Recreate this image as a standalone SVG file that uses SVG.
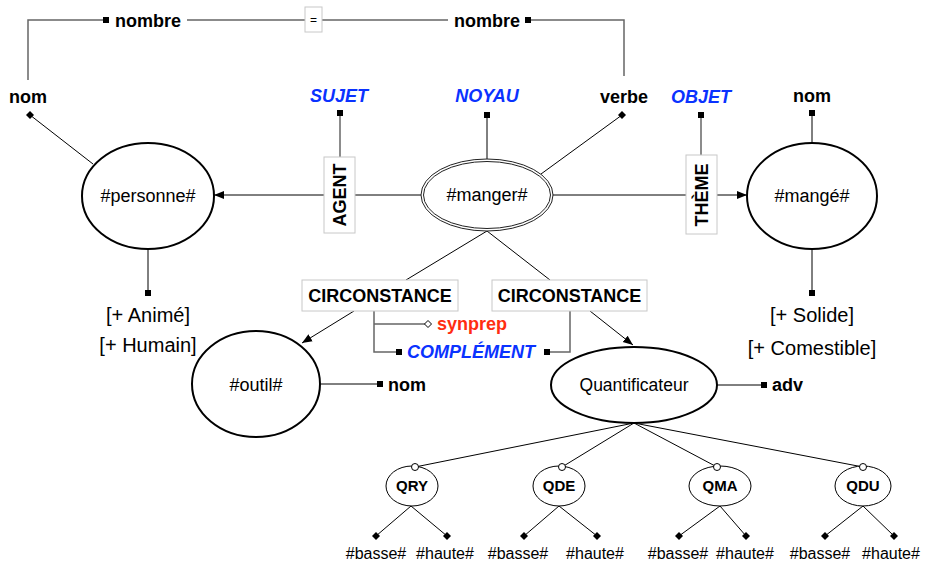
<svg xmlns="http://www.w3.org/2000/svg" width="928" height="567" viewBox="0 0 928 567">
<style>
text{font-family:"Liberation Sans",Arial,sans-serif;fill:#000}
.b{font-weight:bold;font-size:18px}
.blue{fill:#0a32ff;font-style:italic}
.red{fill:#ff2d10}
.n{font-size:18px}
.f{font-size:20px}
.s{font-size:16px}
.q{font-weight:bold;font-size:15px}
.m{text-anchor:middle}
.ln{stroke:#000;stroke-width:1;fill:none}
.gl{stroke:#666;stroke-width:1.5;fill:none}
.el{fill:#fff;stroke:#000;stroke-width:2}
.es{fill:#fff;stroke:#000;stroke-width:1}
.box{fill:#fff;stroke:#c8c8c8;stroke-width:1}
</style>
<defs>
<rect id="sq" x="-3" y="-3" width="6" height="6" fill="#000"/>
<path id="dm" d="M0,-4L4,0L0,4L-4,0Z" fill="#000"/>
<path id="od" d="M0,-3.5L3.5,0L0,3.5L-3.5,0Z" fill="#fff" stroke="#000" stroke-width="1"/>
<circle id="oc" r="3.5" fill="#fff" stroke="#000" stroke-width="1"/>
<marker id="ar" viewBox="0 0 10 10" refX="10" refY="5" markerWidth="10" markerHeight="10" markerUnits="userSpaceOnUse" orient="auto">
<path d="M0,1L10,5L0,9Z" fill="#000"/>
</marker>
</defs>

<g id="connectors">
<path class="gl" d="M28,80V20H104"/>
<path class="gl" d="M187,20H305M322,20H448"/>
<path class="gl" d="M531,20H624V76"/>
<line class="ln" x1="30" y1="115" x2="93" y2="164"/>
<line class="ln" x1="324" y1="195" x2="214" y2="195" marker-end="url(#ar)"/>
<line class="ln" x1="421" y1="195" x2="355" y2="195"/>
<line class="gl" x1="340" y1="113" x2="340" y2="157"/>
<line class="ln" x1="487" y1="115" x2="487" y2="159"/>
<line class="ln" x1="622" y1="115" x2="541" y2="174"/>
<line class="gl" x1="701" y1="115" x2="701" y2="155"/>
<line class="ln" x1="553" y1="195" x2="686" y2="195"/>
<line class="ln" x1="717" y1="195" x2="747" y2="195" marker-end="url(#ar)"/>
<line class="ln" x1="812" y1="113" x2="812" y2="143"/>
<line class="ln" x1="812" y1="249" x2="812" y2="293"/>
<line class="ln" x1="148" y1="249" x2="148" y2="293"/>
<line class="ln" x1="487" y1="231" x2="406" y2="280"/>
<line class="ln" x1="487" y1="231" x2="550" y2="280"/>
<line class="ln" x1="354" y1="311" x2="302" y2="343" marker-end="url(#ar)"/>
<path class="gl" d="M374,311V352H396M374,324H425"/>
<path class="gl" d="M550,352H570V311"/>
<line class="ln" x1="590" y1="311" x2="633" y2="345" marker-end="url(#ar)"/>
<line class="ln" x1="321" y1="384" x2="380" y2="384"/>
<line class="ln" x1="717" y1="385" x2="764" y2="385"/>
<path class="ln" d="M634,423L415,467M634,423L562,467M634,423L717,467M634,423L863,467"/>
<path class="ln" d="M411,506L376,536M411,506L447,536"/>
<path class="ln" d="M559,506L524,536M559,506L597,536"/>
<path class="ln" d="M720,506L679,536M720,506L746,536"/>
<path class="ln" d="M863,506L825,536M863,506L894,536"/>
<use href="#sq" x="106" y="20"/>
<use href="#sq" x="528" y="20"/>
<use href="#dm" x="30" y="115"/>
<use href="#sq" x="340" y="113"/>
<use href="#sq" x="487" y="115"/>
<use href="#dm" x="622" y="115"/>
<use href="#sq" x="701" y="115"/>
<use href="#sq" x="812" y="113"/>
<use href="#sq" x="812" y="293"/>
<use href="#sq" x="148" y="293"/>
<use href="#od" x="428" y="324"/>
<use href="#sq" x="399" y="352"/>
<use href="#sq" x="547" y="352"/>
<use href="#sq" x="380" y="384"/>
<use href="#sq" x="764" y="385"/>
<use href="#dm" x="376" y="536"/><use href="#dm" x="447" y="536"/>
<use href="#dm" x="524" y="536"/><use href="#dm" x="597" y="536"/>
<use href="#dm" x="679" y="536"/><use href="#dm" x="746" y="536"/>
<use href="#dm" x="825" y="536"/><use href="#dm" x="894" y="536"/>
</g>

<g id="top-agreement">
<text class="b" x="115" y="27">nombre</text>
<rect class="box" x="305" y="7" width="17" height="25"/>
<text x="313.5" y="24" class="m" style="font-size:12px">=</text>
<text class="b" x="454" y="27">nombre</text>
</g>

<g id="nom-left"><text class="b m" x="28" y="103">nom</text></g>
<g id="sujet"><text class="b blue m" x="339" y="102">SUJET</text></g>
<g id="noyau"><text class="b blue m" x="487" y="102">NOYAU</text></g>
<g id="verbe"><text class="b m" x="624" y="103">verbe</text></g>
<g id="objet"><text class="b blue m" x="701" y="103">OBJET</text></g>
<g id="nom-right"><text class="b m" x="812" y="102">nom</text></g>

<g id="personne">
<ellipse class="el" cx="148" cy="196" rx="66" ry="53"/>
<text class="n m" x="148" y="202">#personne#</text>
</g>
<g id="agent">
<rect class="box" x="324" y="157" width="31" height="76"/>
<text class="b m" transform="translate(346,195) rotate(-90)">AGENT</text>
</g>
<g id="manger">
<ellipse cx="487" cy="195" rx="66" ry="36" fill="#fff" stroke="#222" stroke-width="1"/>
<ellipse cx="487" cy="195" rx="63.5" ry="33.5" fill="none" stroke="#222" stroke-width="1"/>
<text class="n m" x="487" y="201">#manger#</text>
</g>
<g id="theme">
<rect class="box" x="686" y="155" width="31" height="79"/>
<text class="b m" transform="translate(708,195) rotate(-90)">THÈME</text>
</g>
<g id="mange">
<ellipse class="el" cx="812" cy="196" rx="65" ry="53"/>
<text class="n m" x="812" y="202">#mangé#</text>
</g>
<g id="traits-personne">
<text class="f m" x="148" y="322">[+ Animé]</text>
<text class="f m" x="148" y="352">[+ Humain]</text>
</g>
<g id="traits-mange">
<text class="f m" x="812" y="322">[+ Solide]</text>
<text class="f m" x="812" y="355">[+ Comestible]</text>
</g>
<g id="circ-left">
<rect class="box" x="302" y="280" width="156" height="31"/>
<text class="b m" x="380" y="302">CIRCONSTANCE</text>
</g>
<g id="circ-right">
<rect class="box" x="492" y="280" width="155" height="31"/>
<text class="b m" x="569.5" y="302">CIRCONSTANCE</text>
</g>
<g id="synprep"><text class="b red" x="437" y="330">synprep</text></g>
<g id="complement"><text class="b blue" x="407" y="358">COMPLÉMENT</text></g>
<g id="outil">
<ellipse class="el" cx="256" cy="384" rx="64" ry="53"/>
<text class="n m" x="256" y="391">#outil#</text>
</g>
<g id="nom-outil"><text class="b" x="388" y="391">nom</text></g>
<g id="quantificateur">
<ellipse class="el" cx="634" cy="385" rx="83" ry="38"/>
<text class="m" style="font-size:17.5px" x="634" y="391">Quantificateur</text>
</g>
<g id="adv"><text class="b" x="772" y="391">adv</text></g>

<g id="qry"><ellipse class="es" cx="412" cy="486" rx="26" ry="20"/><text class="q m" x="412" y="491">QRY</text></g>
<g id="qde"><ellipse class="es" cx="559" cy="486" rx="26" ry="20"/><text class="q m" x="559" y="491">QDE</text></g>
<g id="qma"><ellipse class="es" cx="720" cy="486" rx="31" ry="20"/><text class="q m" x="720" y="491">QMA</text></g>
<g id="qdu"><ellipse class="es" cx="863" cy="486" rx="28" ry="20"/><text class="q m" x="863" y="491">QDU</text></g>
<g id="q-markers">
<use href="#oc" x="415" y="467"/><use href="#oc" x="562" y="467"/>
<use href="#oc" x="717" y="467"/><use href="#oc" x="863" y="467"/>
</g>
<g id="leaves">
<text class="s m" x="376" y="559">#basse#</text><text class="s m" x="445" y="559">#haute#</text>
<text class="s m" x="518" y="559">#basse#</text><text class="s m" x="595" y="559">#haute#</text>
<text class="s m" x="678" y="559">#basse#</text><text class="s m" x="745" y="559">#haute#</text>
<text class="s m" x="820" y="559">#basse#</text><text class="s m" x="891" y="559">#haute#</text>
</g>
</svg>
